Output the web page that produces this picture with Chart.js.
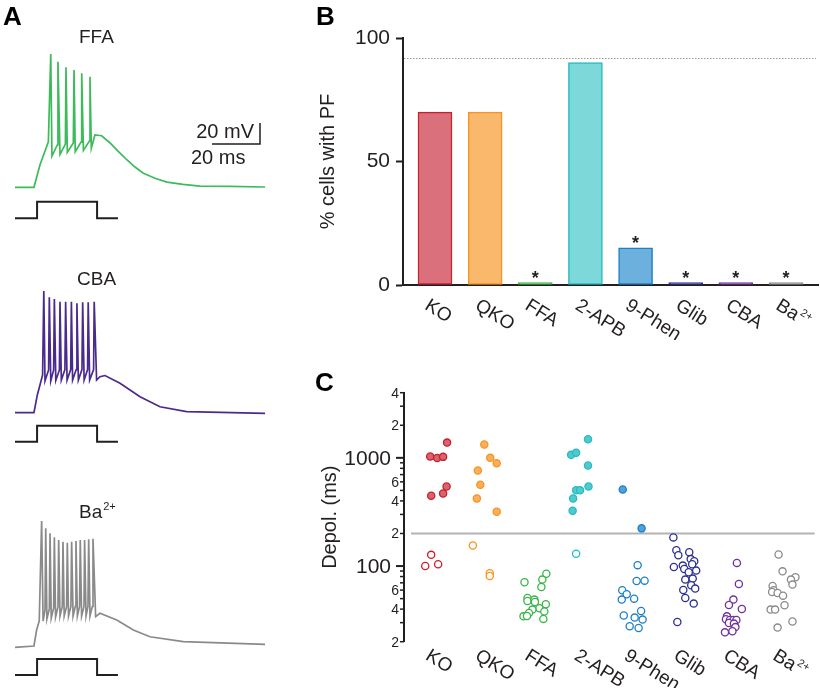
<!DOCTYPE html>
<html lang="en">
<head>
<meta charset="UTF-8">
<title>Persistent firing</title>
<script src="https://cdn.jsdelivr.net/npm/chart.js@4"></script>
<style>
  body { margin: 0; background: #fff; }
  #fig { position: relative; width: 820px; height: 688px; overflow: hidden; }
  canvas { position: absolute; }
</style>
</head>
<body>
<div id="fig">
  <canvas id="traceFFA" width="290" height="230" style="left:0;top:0"></canvas>
  <canvas id="traceCBA" width="290" height="230" style="left:0;top:230px"></canvas>
  <canvas id="traceBa" width="290" height="228" style="left:0;top:460px"></canvas>
  <canvas id="pfBars" width="520" height="340" style="left:300px;top:0"></canvas>
  <canvas id="depolDots" width="520" height="318" style="left:300px;top:370px"></canvas>
</div>

<script>
// ---- data ----
const groups = ['KO', 'QKO', 'FFA', '2-APB', '9-Phen', 'Glib', 'CBA', 'Ba2+'];

// B: % of cells with persistent firing
const pfPercent = [70, 70, 1, 90, 15, 1, 1, 1];
const pfSignificant = [false, false, true, false, true, true, true, true];
const pfControlLine = 92;

// C: depolarization duration (ms) per cell, with horizontal jitter (category units)
const depolKO = [1028, 998, 1021, 1384, 446, 469, 543, 127, 100, 104];
const jitterKO = [-0.11, 0.03, 0.15, 0.23, -0.09, 0.15, 0.22, -0.09, -0.21, 0.05];
const depolQKO = [1327, 1000, 891, 764, 564, 422, 318, 155, 86, 81];
const jitterQKO = [-0.02, 0.10, 0.23, -0.15, -0.10, -0.17, 0.23, -0.25, 0.09, 0.09];
const depolFFA = [85, 70.8, 75, 64, 50.7, 47.6, 49, 46.5, 44.4, 40.8, 39.6, 38, 36.8, 34.3, 34.6, 32.5];
const jitterFFA = [0.23, -0.21, 0.15, 0.13, -0.15, -0.15, -0.01, 0, 0.22, 0.09, -0.05, 0.19, -0.12, -0.23, -0.16, 0.17];
const depol2APB = [1485, 1066, 1112, 849, 543, 502, 502, 422, 324, 130];
const jitter2APB = [0.07, -0.27, -0.17, 0.07, 0.08, -0.17, -0.09, -0.23, -0.24, -0.17];
const depol9Phen = [511, 223, 102, 72.8, 73.3, 59.7, 54.9, 49, 50, 38.4, 34.9, 33.4, 32, 27.8, 26.8];
const jitter9Phen = [-0.23, 0.15, 0.07, 0.05, 0.21, -0.24, -0.15, -0.25, 0, 0.14, -0.21, 0.01, 0.17, -0.09, 0.09];
const depolGlib = [184, 140, 126, 134, 116, 111, 104, 98, 101, 94, 87.6, 90.8, 75, 76.6, 66.4, 61.9, 60, 50.7, 45, 30.4];
const jitterGlib = [-0.21, -0.15, -0.11, 0.11, 0.14, 0.21, 0.17, -0.20, -0.02, 0.01, 0.10, 0.25, 0.03, 0.18, 0.15, 0.23, -0.01, 0.03, 0.20, -0.13];
const depolCBA = [107, 68.3, 49, 43.7, 40.1, 34.3, 32.2, 31.8, 31.8, 31.8, 29.8, 29.4, 27.3, 24.4, 25];
const jitterCBA = [0.07, 0.11, 0, -0.09, 0.17, -0.13, -0.15, -0.07, 0, 0.06, -0.09, 0.01, 0.04, -0.17, -0.02];
const depolBa = [128, 89.4, 78.7, 75, 67.4, 65.4, 59.7, 57.5, 56.4, 53.3, 43.4, 39.6, 39.6, 30.7, 27];
const jitterBa = [-0.09, -0.01, 0.25, 0.16, 0.19, -0.21, -0.19, -0.22, -0.11, 0, 0.03, -0.25, -0.16, 0.19, -0.11];
const depolThreshold = 200;
const depolTicks = [20, 4000];

// A: example voltage traces (ms, mV) and current step (off/on)
const tFFA = [0, 7.9, 10.4, 13.9, 14.9, 15.4, 17.6, 17.9, 18.75, 21.0, 21.25, 21.8, 24.3, 24.6, 25.1, 27.5, 27.8, 28.5, 31.0, 31.25, 31.8, 33.3, 36.1, 39.6, 43.0, 46.7, 50.0, 53.3, 58.3, 63.3, 70.0, 77.1, 89.6, 104.2];
const vFFA = [-70, -70, -48.8, -26.6, 57, -40.2, -29.7, 49.6, -38.6, -28.8, 44.3, -36.7, -27.8, 41.7, -36.1, -26.9, 38.6, -34.8, -25.9, 35.3, -32.9, -20.2, -20.9, -27.8, -35.7, -44, -50.7, -56.4, -61.4, -65, -67.3, -68.8, -69.2, -69.7];
const tCBA = [0, 7.9, 9.3, 10.4, 11.5, 12.0, 12.5, 14.0, 14.3, 14.9, 16.1, 16.4, 17.0, 18.5, 18.75, 19.3, 20.8, 21.1, 21.7, 23.2, 23.5, 24.0, 25.5, 25.8, 26.4, 27.9, 28.2, 28.8, 30.25, 30.5, 31.1, 32.75, 33.0, 34.0, 35.4, 37.5, 43.75, 52.1, 60.4, 71.5, 104.2];
const vCBA = [-70, -70, -53.1, -43.6, -34.1, 45.9, -39.8, -29.3, 39.9, -39.8, -29.3, 38.3, -39.3, -29.3, 35.7, -38.9, -28.9, 35.7, -38.9, -28.9, 35.7, -38.9, -28.9, 34.2, -38.9, -28.9, 35.1, -38.9, -28.9, 35.1, -38.9, -28.9, 35.7, -38.9, -35.7, -34.6, -42, -54.8, -64.3, -69, -70.6];
const tBa = [0, 7.9, 9.0, 10.1, 11.1, 11.7, 12.5, 12.8, 13.3, 14.3, 14.6, 15.1, 16.1, 16.4, 16.9, 17.9, 18.2, 18.75, 19.7, 20.0, 20.5, 21.5, 21.8, 22.3, 23.3, 23.6, 24.2, 25.1, 25.4, 26.0, 26.9, 27.2, 27.75, 28.75, 29.0, 29.6, 30.4, 30.7, 31.25, 32.2, 32.5, 33.6, 35.4, 42.4, 49.3, 56.25, 70.1, 104.2];
const vBa = [-70.8, -69.5, -54.3, -45.7, 49.5, -45.7, -35.2, 42.6, -43.8, -34.3, 37.8, -42.9, -33.3, 34, -41.9, -32.4, 31.4, -41, -31.9, 29.8, -41, -31.9, 28.9, -41, -31.9, 29.8, -41, -31.9, 30.5, -41, -31.9, 31.4, -41, -31.9, 31.4, -41, -31.9, 32.1, -41, -31.9, 32.7, -41.6, -38.4, -44.8, -54.3, -60.7, -65.4, -67.9];
const stimT = [0, 9.2, 9.2, 34.2, 34.2, 42.9];
const stimOn = [0, 0, 1, 1, 0, 0];
const scaleBarMs = 20;
const scaleBarMV = 20;

// ---- style / layout ----
const FONT = "'Liberation Sans', Arial, sans-serif";
const INK = '#231f20';
const groupColor = ['#c8202d', '#f7941d', '#39b54a', '#26bcc1', '#1f80c4', '#2e3192', '#7030a0', '#8a8a8a'];
const barFill = ['#da707b', '#f9b86b', '#39b54a', '#7dd8da', '#6cb0dd', '#2e3192', '#7030a0', '#8a8a8a'];
const dotFill = ['#d8646f', '#f8b05f', '#39b54a', '#4fcbcd', '#4da3db', '#2e3192', '#7030a0', '#8a8a8a'];
const catPad = 0.638;
const LABEL_ANGLE = 32 * Math.PI / 180;
const restMV = -70, pxPerMs = 2.4, pxPerMV = 1.05, traceX0 = 15;

Chart.defaults.font.family = FONT;
Chart.defaults.color = INK;
Chart.defaults.animation = false;
Chart.defaults.responsive = false;
Chart.defaults.plugins.legend.display = false;
Chart.defaults.plugins.tooltip.enabled = false;

function drawLabel(ctx, text, x, y, size) {
  // "Ba2+" gets a superscript charge
  const m = text.match(/^(.*?)(\d\+)$/);
  const base = m ? m[1] : text;
  ctx.font = size + 'px ' + FONT;
  ctx.fillText(base, x, y);
  if (m) {
    const w = ctx.measureText(base).width;
    ctx.font = Math.round(size * 0.6) + 'px ' + FONT;
    ctx.fillText(m[2], x + w + 1, y - size * 0.42);
  }
}

function drawLetter(ctx, ch, x, y) {
  ctx.save();
  ctx.fillStyle = '#000';
  ctx.font = 'bold 26px ' + FONT;
  ctx.textBaseline = 'alphabetic';
  ctx.fillText(ch, x, y);
  ctx.restore();
}

function drawCategoryLabels(chart, topOffset) {
  const {ctx, chartArea} = chart;
  const xs = chart.scales.x;
  const size = 19;
  ctx.save();
  ctx.fillStyle = INK;
  ctx.textAlign = 'left';
  ctx.textBaseline = 'alphabetic';
  groups.forEach((g, i) => {
    ctx.save();
    ctx.translate(xs.getPixelForValue(i) - 4, chartArea.bottom + topOffset);
    ctx.rotate(LABEL_ANGLE);
    drawLabel(ctx, g, 0, size * 0.716, size);
    ctx.restore();
  });
  ctx.restore();
}

// ---- panel A ----
function traceChart(id, t, v, color, lay) {
  const canvas = document.getElementById(id);
  const W = canvas.width, H = canvas.height;
  const unit = lay.stimLowY - lay.stimHighY;
  const datasets = [
    { data: t.map((x, i) => ({x, y: v[i]})), borderColor: color, borderWidth: 1.7, yAxisID: 'y' },
    { data: stimT.map((x, i) => ({x, y: stimOn[i]})), borderColor: INK, borderWidth: 2, yAxisID: 'stim' }
  ];
  if (lay.scaleBar) {
    const cx = (lay.scaleBar.x - traceX0) / pxPerMs;
    const cy = restMV + (lay.restY - lay.scaleBar.y) / pxPerMV;
    datasets.push({
      data: [{x: cx - scaleBarMs, y: cy}, {x: cx, y: cy}, {x: cx, y: cy + scaleBarMV}],
      borderColor: INK, borderWidth: 1.5, yAxisID: 'y'
    });
  }
  datasets.forEach(d => { d.showLine = true; d.pointRadius = 0; d.tension = 0; });

  new Chart(canvas, {
    type: 'scatter',
    data: { datasets },
    options: {
      layout: { padding: 0 },
      scales: {
        x: { type: 'linear', display: false, min: -traceX0 / pxPerMs, max: (W - traceX0) / pxPerMs },
        y: { type: 'linear', display: false,
             min: restMV - (H - lay.restY) / pxPerMV, max: restMV + lay.restY / pxPerMV },
        stim: { type: 'linear', display: false,
                min: (lay.stimLowY - H) / unit, max: lay.stimLowY / unit }
      }
    },
    plugins: [{
      id: 'traceText',
      afterDraw(chart) {
        const ctx = chart.ctx;
        ctx.save();
        ctx.fillStyle = INK;
        ctx.textBaseline = 'alphabetic';
        drawLabel(ctx, lay.label, lay.labelX, lay.labelY, 19);
        if (lay.scaleBar) {
          ctx.font = '20px ' + FONT;
          ctx.textAlign = 'right';
          ctx.fillText(scaleBarMV + ' mV', lay.scaleBar.x - 6, lay.scaleBar.y - 6);
          ctx.textAlign = 'left';
          ctx.fillText(scaleBarMs + ' ms', lay.scaleBar.x - 69, lay.scaleBar.y + 20);
        }
        ctx.restore();
        if (lay.letter) drawLetter(ctx, lay.letter, 3, 25);
      }
    }]
  });
}

traceChart('traceFFA', tFFA, vFFA, '#3dba5a', {
  restY: 187.3, stimLowY: 218.3, stimHighY: 201.7, label: 'FFA', labelX: 79, labelY: 43,
  scaleBar: {x: 260, y: 144}, letter: 'A'
});
traceChart('traceCBA', tCBA, vCBA, '#4b2a8e', {
  restY: 182.7, stimLowY: 211.7, stimHighY: 195.7, label: 'CBA', labelX: 77, labelY: 55
});
traceChart('traceBa', tBa, vBa, '#8a8a8a', {
  restY: 186.5, stimLowY: 215, stimHighY: 199, label: 'Ba2+', labelX: 79, labelY: 58
});

// ---- panel B ----
new Chart(document.getElementById('pfBars'), {
  type: 'bar',
  data: {
    datasets: [{
      data: pfPercent.map((y, i) => ({x: i, y})),
      backgroundColor: barFill,
      borderColor: groupColor,
      borderWidth: 1.5,
      borderSkipped: false,
      barThickness: 34
    }]
  },
  options: {
    layout: { padding: {top: 38, right: 2, left: 0, bottom: 0} },
    scales: {
      x: {
        type: 'linear', offset: false, min: -catPad, max: groups.length - 1 + catPad,
        ticks: { display: false }, grid: { display: false },
        border: { display: true, width: 2, color: INK },
        afterFit(s) { s.height = 55; }
      },
      y: {
        min: 0, max: 100,
        ticks: { stepSize: 50, font: {size: 21}, padding: 6, color: INK },
        grid: { drawOnChartArea: false, tickLength: 7, tickWidth: 2, tickColor: INK },
        border: { width: 2, color: INK },
        title: { display: true, text: '% cells with PF', font: {size: 20}, padding: {top: 16}, color: INK },
        afterFit(s) { s.width = 103; }
      }
    }
  },
  plugins: [{
    id: 'pfDecor',
    afterDatasetsDraw(chart) {
      const {ctx, chartArea} = chart;
      const ys = chart.scales.y;
      // control reference line
      const yl = Math.round(ys.getPixelForValue(pfControlLine)) + 0.5;
      ctx.save();
      ctx.strokeStyle = '#9a9a9a';
      ctx.lineWidth = 1;
      ctx.setLineDash([1.5, 1.5]);
      ctx.beginPath();
      ctx.moveTo(chartArea.left + 1, yl);
      ctx.lineTo(chartArea.right - 2, yl);
      ctx.stroke();
      ctx.restore();
      // significance stars
      const bars = chart.getDatasetMeta(0).data;
      ctx.save();
      ctx.fillStyle = INK;
      ctx.font = 'bold 18px ' + FONT;
      ctx.textAlign = 'center';
      ctx.textBaseline = 'alphabetic';
      bars.forEach((b, i) => {
        if (pfSignificant[i]) ctx.fillText('*', b.x, b.y + 1);
      });
      ctx.restore();
    },
    afterDraw(chart) {
      drawCategoryLabels(chart, 12);
      drawLetter(chart.ctx, 'B', 16, 25);
    }
  }]
});

// ---- panel C ----
const depolSets = [
  [depolKO, jitterKO], [depolQKO, jitterQKO], [depolFFA, jitterFFA], [depol2APB, jitter2APB],
  [depol9Phen, jitter9Phen], [depolGlib, jitterGlib], [depolCBA, jitterCBA], [depolBa, jitterBa]
];

new Chart(document.getElementById('depolDots'), {
  type: 'scatter',
  data: {
    datasets: depolSets.map(([vals, jit], g) => ({
      data: vals.map((y, i) => ({x: g + jit[i], y})),
      pointRadius: 3.6,
      pointBorderWidth: 1.3,
      pointBorderColor: groupColor[g],
      pointBackgroundColor: vals.map(v => v > depolThreshold ? dotFill[g] : '#ffffff')
    }))
  },
  options: {
    layout: { padding: {top: 22.7, right: 2, left: 0, bottom: 46.3} },
    scales: {
      x: { type: 'linear', display: false, min: -catPad, max: groups.length - 1 + catPad },
      y: {
        type: 'logarithmic', min: depolTicks[0], max: depolTicks[1],
        ticks: { display: false }, grid: { display: false },
        border: { width: 2, color: INK },
        title: { display: true, text: 'Depol. (ms)', font: {size: 20}, padding: {top: 18}, color: INK },
        afterFit(s) { s.width = 104; }
      }
    }
  },
  plugins: [{
    id: 'depolDecor',
    beforeDatasetsDraw(chart) {
      const {ctx, chartArea} = chart;
      const y = chart.scales.y.getPixelForValue(depolThreshold);
      ctx.save();
      ctx.strokeStyle = '#b3b3b3';
      ctx.lineWidth = 2;
      ctx.beginPath();
      ctx.moveTo(chartArea.left + 7, y);
      ctx.lineTo(chartArea.right, y);
      ctx.stroke();
      ctx.restore();
    },
    afterDraw(chart) {
      const {ctx, chartArea} = chart;
      const ys = chart.scales.y;
      const left = chartArea.left;
      ctx.save();
      ctx.strokeStyle = INK;
      ctx.fillStyle = INK;
      ctx.textAlign = 'right';
      ctx.textBaseline = 'middle';
      for (let d = 10; d <= depolTicks[1]; d *= 10) {
        for (let m = 1; m <= 9; m++) {
          const v = m * d;
          if (v < depolTicks[0] || v > depolTicks[1]) continue;
          const y = ys.getPixelForValue(v);
          const major = m === 1;
          ctx.lineWidth = major ? 2 : 1.5;
          ctx.beginPath();
          ctx.moveTo(left - (major ? 8 : 4), y);
          ctx.lineTo(left, y);
          ctx.stroke();
          if (major) {
            ctx.font = '21px ' + FONT;
            ctx.fillText(String(v), left - 13, y + 1);
          } else if (m === 2 || m === 4 || m === 6) {
            ctx.font = '14px ' + FONT;
            ctx.fillText(String(m), left - 5, y + 1);
          }
        }
      }
      ctx.restore();
      drawCategoryLabels(chart, 5.5);
      drawLetter(ctx, 'C', 15, 21);
    }
  }]
});
</script>
</body>
</html>
